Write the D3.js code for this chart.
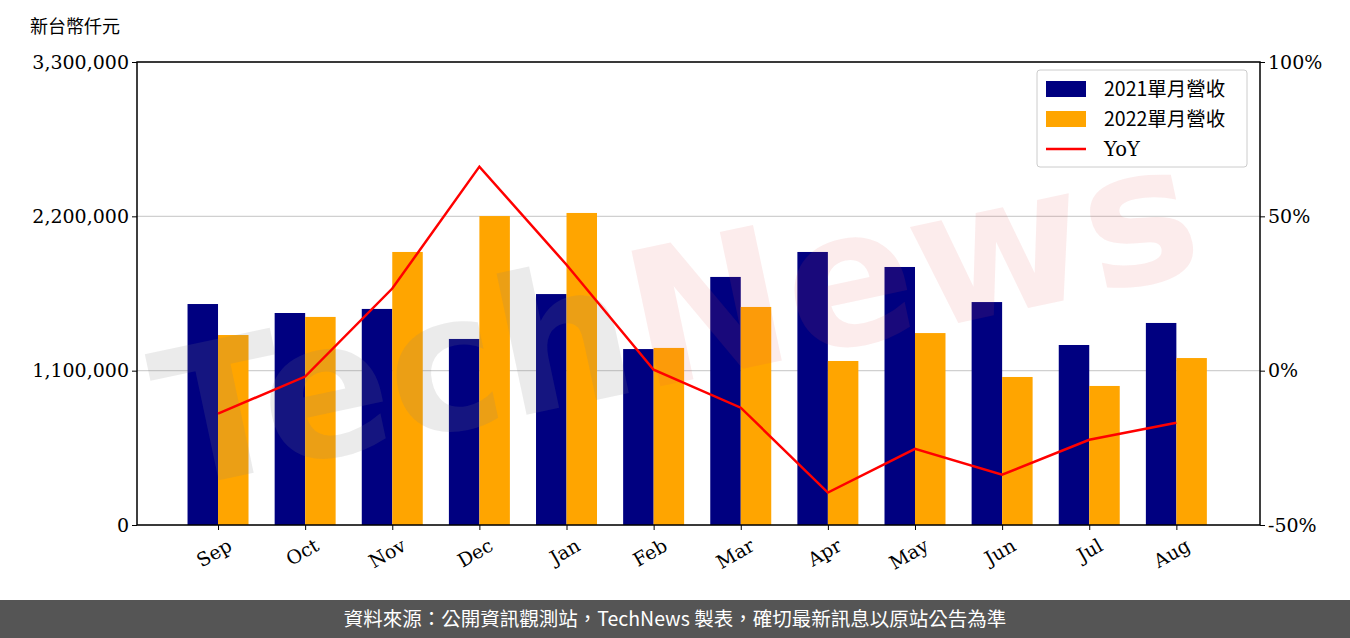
<!DOCTYPE html>
<html><head><meta charset="utf-8">
<script src="https://cdn.jsdelivr.net/npm/d3@7"></script>
<style>body{margin:0;background:#fff}</style></head>
<body><svg id="c" width="1350" height="638"></svg>
<script>
const months=["Sep","Oct","Nov","Dec","Jan","Feb","Mar","Apr","May","Jun","Jul","Aug"];
const rev2021=[1575000,1511000,1540000,1326000,1646000,1254000,1768000,1946000,1839000,1589000,1283000,1440000];
const rev2022=[1354000,1483000,1946000,2202000,2224000,1262000,1554000,1169000,1368000,1055000,991000,1190000];
const yoy=[-13.9,-1.9,26.6,66.1,34.3,0.3,-12.0,-39.5,-25.3,-33.7,-22.4,-16.9];
const leftTicks=[0,1100000,2200000,3300000];
const rightTicks=[-50,0,50,100];

const svg=d3.select("#c");
const L=137,R=1260,T=62,B=525;
const x=d3.scaleLinear().domain([-0.93,11.96]).range([L,R]);
const y=d3.scaleLinear().domain([0,3300000]).range([B,T]);
const y2=d3.scaleLinear().domain([-50,100]).range([B,T]);
const serif="'DejaVu Serif',serif", cjk="'Noto Sans CJK TC',sans-serif";

// grid
svg.append("g").selectAll("line").data(leftTicks).join("line")
 .attr("x1",L).attr("x2",R).attr("y1",d=>y(d)).attr("y2",d=>y(d)).attr("stroke","#d0d0d0").attr("stroke-width",1.2);

const bw=0.35;
svg.append("g").selectAll("rect").data(rev2021).join("rect")
 .attr("x",(d,i)=>x(i-bw)).attr("width",x(bw)-x(0)).attr("y",d=>y(d)).attr("height",d=>B-y(d)).attr("fill","#000080");
svg.append("g").selectAll("rect").data(rev2022).join("rect")
 .attr("x",(d,i)=>x(i)).attr("width",x(bw)-x(0)).attr("y",d=>y(d)).attr("height",d=>B-y(d)).attr("fill","#ffa500");

// watermark (on top, translucent)
const wm=svg.append("text").attr("x",690).attr("y",380).attr("transform","rotate(-12,690,380)")
 .attr("text-anchor","middle").attr("font-family","'DejaVu Sans',sans-serif").attr("font-weight","bold")
 .attr("font-size",190);
wm.append("tspan").attr("fill","#808080").attr("fill-opacity",0.16).text("Tech");
wm.append("tspan").attr("fill","#e05050").attr("fill-opacity",0.11).text("News");

svg.append("path").datum(yoy).attr("fill","none").attr("stroke","red").attr("stroke-width",2.5)
 .attr("d",d3.line().x((d,i)=>x(i)).y(d=>y2(d)));

// axes
const fmt=d3.format(",");
const ga=svg.append("g").attr("transform",`translate(${L},0)`).call(d3.axisLeft(y).tickValues(leftTicks).tickFormat(fmt).tickSize(5));
const gb=svg.append("g").attr("transform",`translate(${R},0)`).call(d3.axisRight(y2).tickValues(rightTicks).tickFormat(d=>d+"%").tickSize(5));
const gx=svg.append("g").attr("transform",`translate(0,${B})`).call(d3.axisBottom(x).tickValues(d3.range(12)).tickFormat(i=>months[i]).tickSize(5));
gx.selectAll("text").attr("text-anchor","end").attr("transform","translate(4,6) rotate(-30)").attr("dy","0.7em");
[ga,gb,gx].forEach(g=>{g.selectAll("text").attr("font-family",serif).attr("font-size",19).attr("fill","#000");g.select(".domain").remove();g.selectAll("line").attr("stroke","#000");});
svg.append("rect").attr("x",L).attr("y",T).attr("width",R-L).attr("height",B-T).attr("fill","none").attr("stroke","#000").attr("stroke-width",1.5);

svg.append("text").attr("x",30).attr("y",33).attr("font-family",cjk).attr("font-size",18).text("新台幣仟元");

// legend
const lg=svg.append("g");
lg.append("rect").attr("x",1037).attr("y",70).attr("width",210).attr("height",97).attr("rx",3).attr("fill","#fff").attr("fill-opacity",0.8).attr("stroke","#ccc");
const items=[["2021單月營收","#000080","bar"],["2022單月營收","#ffa500","bar"],["YoY","red","line"]];
items.forEach((it,i)=>{const cy=89+i*30;
 if(it[2]=="bar") lg.append("rect").attr("x",1046).attr("y",cy-8).attr("width",40).attr("height",16).attr("fill",it[1]);
 else lg.append("line").attr("x1",1046).attr("x2",1086).attr("y1",cy).attr("y2",cy).attr("stroke",it[1]).attr("stroke-width",2.5);
 lg.append("text").attr("x",1104).attr("y",cy+7).attr("font-family",i<2?cjk:serif).attr("font-size",19.5).text(it[0]);
});

// footer
svg.append("rect").attr("x",0).attr("y",600).attr("width",1350).attr("height",38).attr("fill","#555");
svg.append("text").attr("x",675).attr("y",626).attr("text-anchor","middle").attr("fill","#fff").attr("font-family",cjk).attr("font-size",19.5)
 .text("資料來源：公開資訊觀測站，TechNews 製表，確切最新訊息以原站公告為準");
</script></body></html>
